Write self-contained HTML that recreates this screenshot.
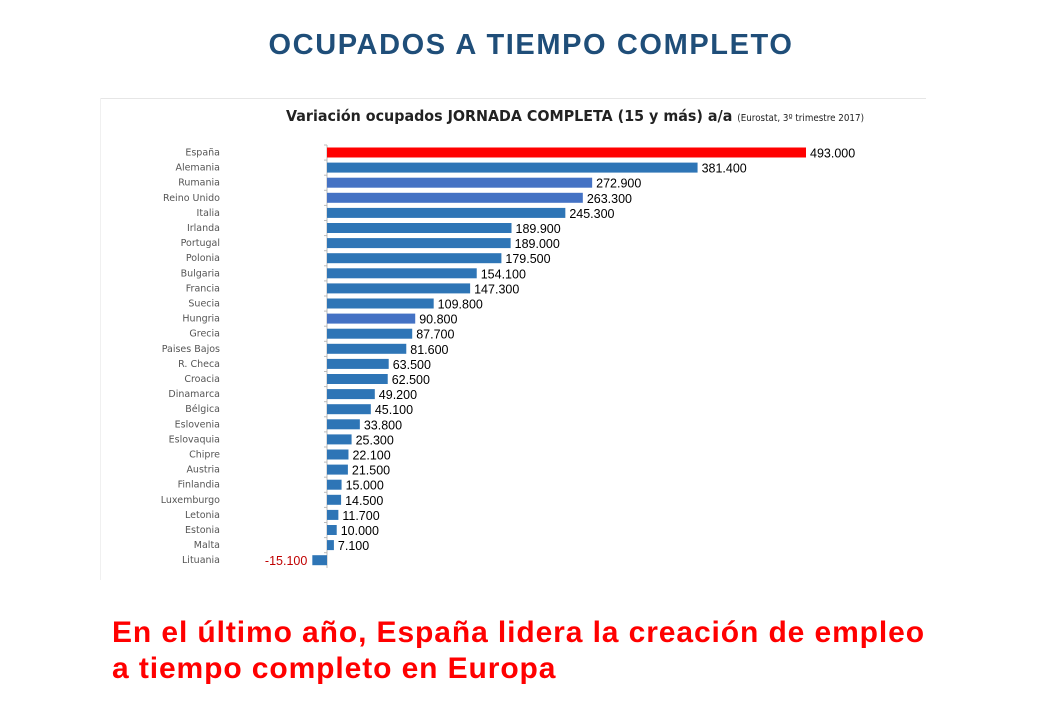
<!DOCTYPE html>
<html><head><meta charset="utf-8"><style>
body{margin:0;background:#fff;width:1040px;height:720px;overflow:hidden;font-family:"Liberation Sans",sans-serif}
#t{position:absolute;top:29px;left:0;width:1062px;text-align:center;font-weight:bold;font-size:29px;letter-spacing:1.6px;color:#1f4e79}
#f{position:absolute;left:112px;top:615px;font-weight:bold;font-size:30px;letter-spacing:0.9px;color:#ff0000;line-height:36px}
svg{position:absolute;left:0;top:0}
</style></head><body>
<div id="t">OCUPADOS A TIEMPO COMPLETO</div>
<svg width="1040" height="720">
<line x1="100" y1="98.5" x2="926" y2="98.5" stroke="#e6e6e6"/>
<line x1="100.5" y1="98" x2="100.5" y2="580" stroke="#f0f0f0"/>
<text x="286" y="121" font-size="15.5" font-weight="bold" fill="#222" font-family="DejaVu Sans,sans-serif" textLength="578" lengthAdjust="spacingAndGlyphs">Variación ocupados JORNADA COMPLETA (15 y más) a/a <tspan font-size="9.5" font-weight="normal">(Eurostat, 3º trimestre 2017)</tspan></text>
<g id="g"></g>
</svg>
<div id="f">En el último año, España lidera la creación de empleo<br>a tiempo completo en Europa</div>
<script>
const countries=["España","Alemania","Rumania","Reino Unido","Italia","Irlanda","Portugal","Polonia","Bulgaria","Francia","Suecia","Hungria","Grecia","Paises Bajos","R. Checa","Croacia","Dinamarca","Bélgica","Eslovenia","Eslovaquia","Chipre","Austria","Finlandia","Luxemburgo","Letonia","Estonia","Malta","Lituania"];
const values=[493000,381400,272900,263300,245300,189900,189000,179500,154100,147300,109800,90800,87700,81600,63500,62500,49200,45100,33800,25300,22100,21500,15000,14500,11700,10000,7100,-15100];
const ns="http://www.w3.org/2000/svg",g=document.getElementById('g');
const x0=327,k=479/493000,y=i=>152.5+i*15.1;
const x=v=>x0+v*k;
function el(t,a){const e=document.createElementNS(ns,t);for(const q in a)e.setAttribute(q,a[q]);g.appendChild(e);return e;}
const ax=el('line',{x1:x0,y1:145,x2:x0,y2:568,stroke:'#bbb'});


const fmt=v=>(v<0?'-':'')+Math.abs(v).toLocaleString('de-DE');
countries.forEach((c,i)=>{
 const v=values[i],cy=y(i);
 const tk=el('line',{x1:x0-3,y1:cy-7.5,x2:x0,y2:cy-7.5,stroke:'#bbb'});
 const l=el('text',{x:220,y:cy+3,'text-anchor':'end','font-size':9.5,fill:'#555','font-family':'DejaVu Sans,sans-serif'});l.textContent=c;
 
 
 const col=i==0?'#ff0000':([2,3,11].includes(i)?'#4472c4':'#2e75b6');
 const r=el('rect',{x:Math.min(x0,x(v)),y:cy-5,width:Math.abs(x(v)-x0),height:10,fill:col});
 
 
 const t=el('text',{x:v<0?x(v)-5:x(v)+4,y:cy+5,'text-anchor':v<0?'end':'start','font-size':12.5,fill:v<0?'#c00000':'#000'});t.textContent=fmt(v);
 
 
});
</script>
</body></html>
